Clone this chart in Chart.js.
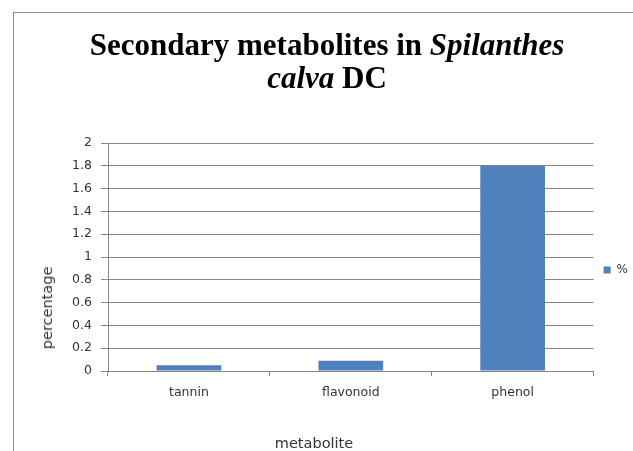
<!DOCTYPE html>
<html>
<head>
<meta charset="utf-8">
<script src="https://cdn.jsdelivr.net/npm/chart.js@4/dist/chart.umd.min.js"></script>
<style>
  html, body { margin: 0; padding: 0; background: #fff; }
  #wrap { position: relative; width: 633px; height: 451px; overflow: hidden; }
  #frame { position: absolute; left: 13px; top: 12px; width: 640px; height: 460px; border: 1px solid #8a8a8a; }
  #title { position: absolute; left: 7px; top: 28px; width: 640px; text-align: center;
    font: bold 31px "Liberation Serif", "Times New Roman", serif; line-height: 33px; color: #000; }
  .axis-title { position: absolute; font: 14.5px "DejaVu Sans", Verdana, sans-serif; color: #333; white-space: nowrap; }
  #ytitle { left: 47px; top: 308px; transform: translate(-50%, -50%) rotate(-90deg); }
  #xtitle { left: 314px; top: 443px; transform: translate(-50%, -50%); }
  canvas { position: absolute; left: 0; top: 0; }
</style>
</head>
<body>
<div id="wrap">
  <div id="frame"></div>
  <canvas id="chart" width="633" height="451"></canvas>
  <div id="title">Secondary metabolites in <i>Spilanthes</i><br><i>calva</i> DC</div>
  <div id="ytitle" class="axis-title">percentage</div>
  <div id="xtitle" class="axis-title">metabolite</div>
</div>
<script>
const categories = ['tannin', 'flavonoid', 'phenol'];
const percentValues = [0.05, 0.09, 1.8];
const yTicks = [0, 0.2, 0.4, 0.6, 0.8, 1, 1.2, 1.4, 1.6, 1.8, 2];

const tickFont = { family: '"DejaVu Sans", Verdana, sans-serif', size: 12.5 };

// move the legend up so it sits next to the 0.9 gridline, like the original
const legendShift = {
  id: 'legendShift',
  afterLayout(chart) {
    const lg = chart.legend;
    if (!lg) return;
    const target = 270;
    const mid = (lg.top + lg.bottom) / 2;
    lg.top += target - mid;
    lg.bottom += target - mid;
    lg.left += 5;
    lg.right += 5;
  }
};

const ctx = document.getElementById('chart').getContext('2d');
const chart = new Chart(ctx, {
  type: 'bar',
  data: {
    labels: categories,
    datasets: [{
      label: '%',
      data: percentValues,
      backgroundColor: '#4f81bd',
      barPercentage: 0.4,
      categoryPercentage: 1
    }]
  },
  options: {
    responsive: false,
    animation: false,
    layout: { padding: { top: 143, left: 0, right: 0, bottom: 0 } },
    plugins: {
      title: { display: false },
      tooltip: { enabled: false },
      legend: {
        position: 'right',
        labels: {
          boxWidth: 7,
          boxHeight: 7,
          padding: 5,
          color: '#333',
          font: { family: tickFont.family, size: 12 }
        }
      }
    },
    scales: {
      x: {
        grid: { drawOnChartArea: false, tickLength: 5, color: '#868686' },
        border: { color: '#868686' },
        ticks: { color: '#333', font: tickFont, padding: 9 },
        afterFit: (scale) => { scale.height = 80; }
      },
      y: {
        min: 0,
        max: 2,
        afterBuildTicks: (scale) => { scale.ticks = yTicks.map(v => ({ value: v })); },
        grid: { color: '#868686', tickLength: 7 },
        border: { color: '#868686' },
        ticks: { color: '#333', font: tickFont, padding: 9, callback: (v) => String(v) },
        afterFit: (scale) => { scale.width = 108; }
      }
    }
  },
  plugins: [legendShift]
});
</script>
</body>
</html>
